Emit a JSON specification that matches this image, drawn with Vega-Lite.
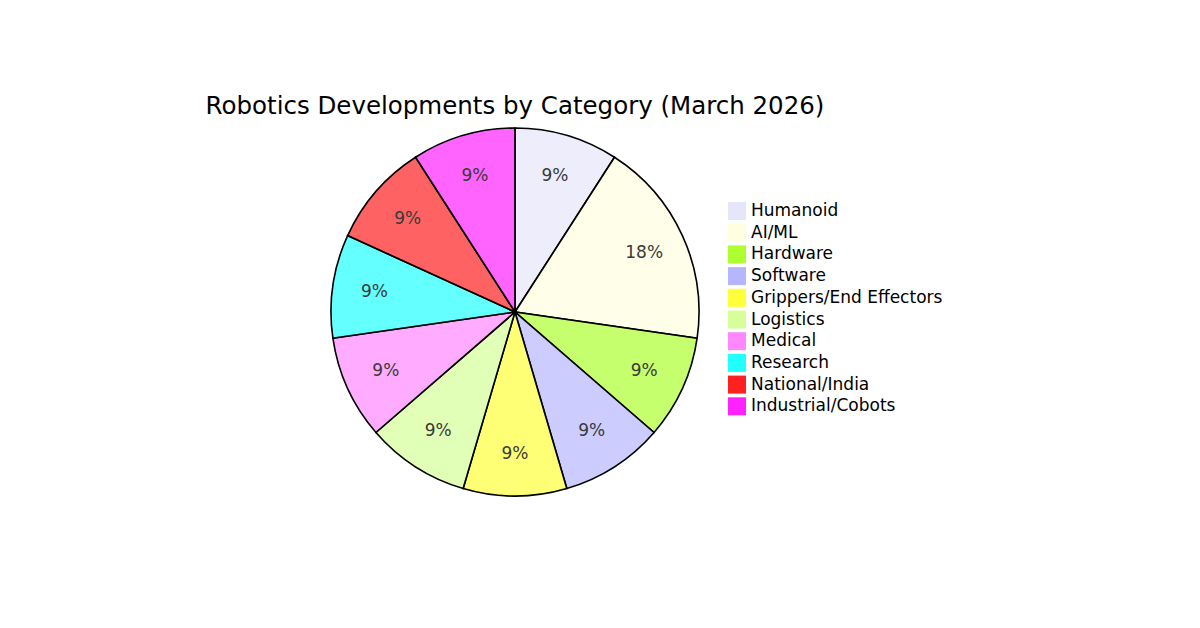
{
  "$schema": "https://vega.github.io/schema/vega-lite/v6.json",
  "description": "Robotics developments by category, share of items.",
  "width": 1022,
  "height": 616,
  "autosize": "none",
  "padding": {"left": 4, "top": 4, "right": 174, "bottom": 8},
  "background": "white",
  "title": {
    "text": "Robotics Developments by Category (March 2026)",
    "font": "DejaVu Sans",
    "fontSize": 24.5,
    "fontWeight": "normal",
    "color": "#000000",
    "anchor": "middle",
    "frame": "group",
    "offset": -115
  },
  "data": {
    "values": [
      {"idx": 1, "category": "Humanoid", "count": 1, "label": "9%"},
      {"idx": 2, "category": "AI/ML", "count": 2, "label": "18%"},
      {"idx": 3, "category": "Hardware", "count": 1, "label": "9%"},
      {"idx": 4, "category": "Software", "count": 1, "label": "9%"},
      {"idx": 5, "category": "Grippers/End Effectors", "count": 1, "label": "9%"},
      {"idx": 6, "category": "Logistics", "count": 1, "label": "9%"},
      {"idx": 7, "category": "Medical", "count": 1, "label": "9%"},
      {"idx": 8, "category": "Research", "count": 1, "label": "9%"},
      {"idx": 9, "category": "National/India", "count": 1, "label": "9%"},
      {"idx": 10, "category": "Industrial/Cobots", "count": 1, "label": "9%"}
    ]
  },
  "encoding": {
    "theta": {"field": "count", "type": "quantitative", "stack": true},
    "order": {"field": "idx", "type": "quantitative"}
  },
  "layer": [
    {
      "mark": {
        "type": "arc",
        "outerRadius": 184,
        "stroke": "#000000",
        "strokeWidth": 1.6,
        "fillOpacity": 0.7
      },
      "encoding": {
        "color": {
          "field": "category",
          "type": "nominal",
          "sort": null,
          "scale": {
            "domain": ["Humanoid", "AI/ML", "Hardware", "Software", "Grippers/End Effectors", "Logistics", "Medical", "Research", "National/India", "Industrial/Cobots"],
            "range": ["#e6e6fa", "#ffffdf", "#adff2f", "#b6b6ff", "#ffff3a", "#d6ff99", "#ff88ff", "#22ffff", "#ff2020", "#ff22ff"]
          },
          "legend": {
            "title": null,
            "orient": "none",
            "legendX": 724,
            "legendY": 198,
            "padding": 0,
            "symbolType": "square",
            "symbolSize": 324,
            "symbolStrokeWidth": 0,
            "symbolOpacity": 1,
            "labelFont": "DejaVu Sans",
            "labelFontSize": 17,
            "labelColor": "#000000",
            "labelOffset": 5,
            "rowPadding": 3.7,
            "labelLimit": 400
          }
        }
      }
    },
    {
      "mark": {
        "type": "text",
        "radius": 142,
        "font": "DejaVu Sans",
        "fontSize": 17,
        "color": "#3a3a3a"
      },
      "encoding": {
        "text": {"field": "label", "type": "nominal"}
      }
    }
  ],
  "config": {
    "view": {"stroke": null}
  }
}
